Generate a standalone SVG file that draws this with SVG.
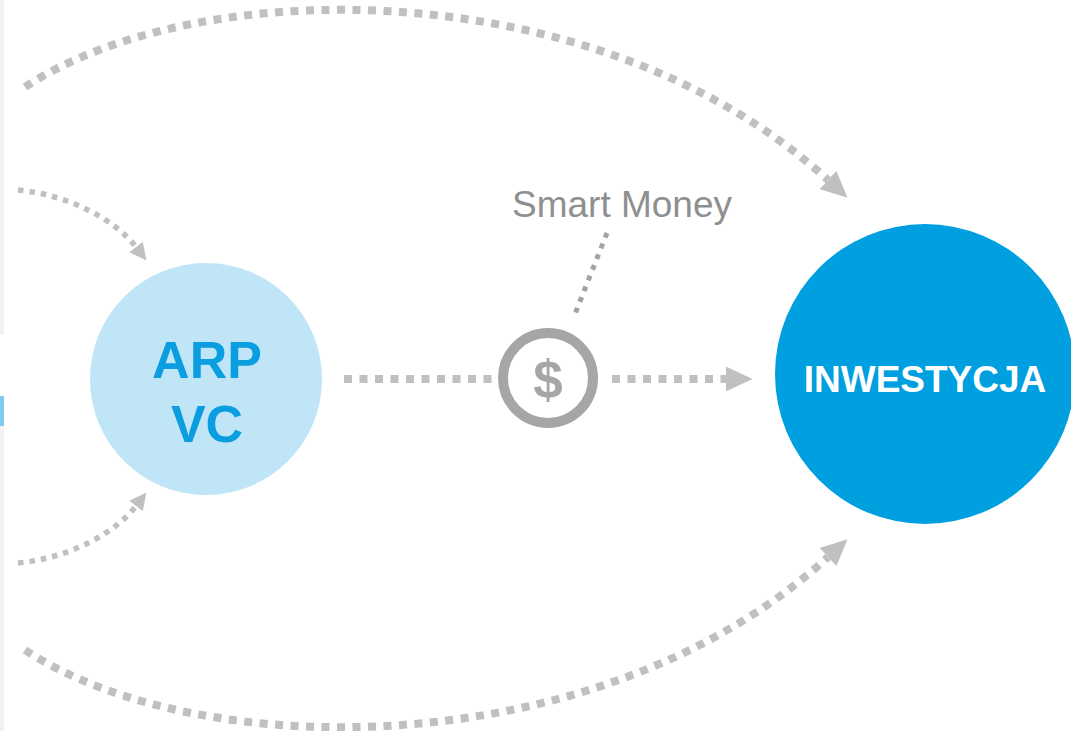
<svg xmlns="http://www.w3.org/2000/svg" width="1071" height="731" viewBox="0 0 1071 731">
<style>
.dots{fill:none;stroke:#c0c0c0;stroke-width:8;stroke-dasharray:8 7.5}
.dots-s{fill:none;stroke:#c0c0c0;stroke-width:5.5;stroke-dasharray:5.5 6}
.dots-d{fill:none;stroke:#a3a3a3;stroke-width:5;stroke-dasharray:5 6.5}
.lbl{font-family:"Liberation Sans",Arial,sans-serif;text-anchor:middle}
</style>
<defs>
<marker id="arr" viewBox="0 0 10 10" refX="0" refY="5" markerWidth="3.3" markerHeight="3.1" markerUnits="strokeWidth" orient="auto" preserveAspectRatio="none">
<path d="M0,0 L10,5 L0,10 Z" fill="#c0c0c0"/>
</marker>
<marker id="arrs" viewBox="0 0 10 10" refX="0" refY="5" markerWidth="3.1" markerHeight="3.1" markerUnits="strokeWidth" orient="auto" preserveAspectRatio="none">
<path d="M0,0 L10,5 L0,10 Z" fill="#c0c0c0"/>
</marker>
</defs>
<rect width="1071" height="731" fill="#ffffff"/>
<g id="side-strip">
<rect x="0" y="0" width="4" height="335" fill="#f2f2f2"/>
<rect x="0" y="396" width="4" height="30" fill="#7fcdee"/>
<rect x="0" y="426" width="4" height="305" fill="#f2f2f2"/>
</g>
<g id="connectors">
<path class="dots" d="M25,87 C200,-28 600,-28 828,180" marker-end="url(#arr)"/>
<path class="dots" d="M25,650 C200,765 600,765 828,557" marker-end="url(#arr)"/>
<path class="dots-s" d="M18,190 C70,195 115,220 136,247" marker-end="url(#arrs)"/>
<path class="dots-s" d="M18,563 C70,558 115,533 136,506" marker-end="url(#arrs)"/>
<path class="dots" d="M344,379 L492,379"/>
<path class="dots" d="M612,379 L726,379" marker-end="url(#arr)"/>
<path class="dots-d" d="M607,233 L575,314"/>
</g>
<g id="node-arp">
<circle cx="206" cy="379" r="116" fill="#bfe5f6"/>
<text class="lbl" x="207" y="378" font-size="52" font-weight="bold" fill="#0a9de0">ARP</text>
<text class="lbl" x="207" y="442" font-size="52" font-weight="bold" fill="#0a9de0">VC</text>
</g>
<g id="node-money">
<circle cx="548" cy="378" r="45" fill="#ffffff" stroke="#a6a6a6" stroke-width="10"/>
<text class="lbl" x="548" y="398" font-size="53" font-weight="bold" fill="#a6a6a6">$</text>
</g>
<g id="label-smart">
<text class="lbl" x="622" y="217" font-size="37" fill="#8f8f8f">Smart Money</text>
</g>
<g id="node-inwestycja">
<circle cx="925" cy="374" r="150" fill="#009fe0"/>
<text class="lbl" x="925" y="392" font-size="37" font-weight="bold" fill="#ffffff">INWESTYCJA</text>
</g>
</svg>
